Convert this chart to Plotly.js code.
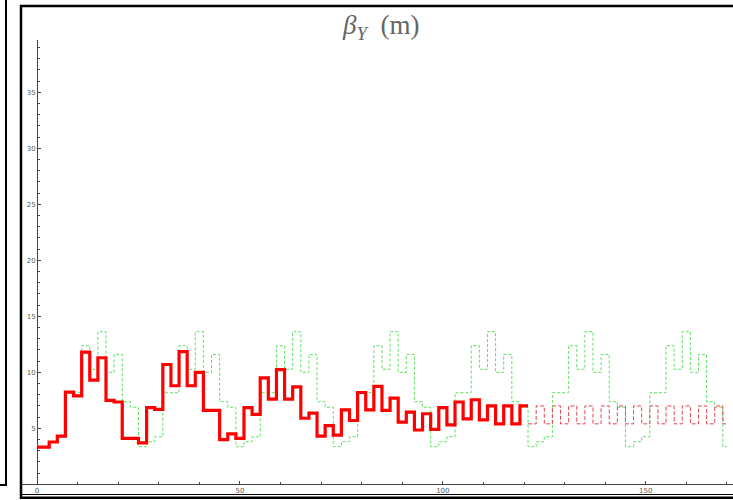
<!DOCTYPE html>
<html>
<head>
<meta charset="utf-8">
<script src="https://cdn.plot.ly/plotly-3.0.1.min.js"></script>
<style>
  html, body { margin: 0; padding: 0; background: #ffffff; }
  #chart { width: 733px; height: 500px; }
</style>
</head>
<body>
<div id="chart"></div>
<script>
// ---- data (s in m, beta_Y in m) ----
// matched section, thick red step line: segment edges and values
var redEdges = [0,3,5,7,9,11,13,15,17,19,21,25,27,29,31,33,35,37,39,41,45,47,49,51,53,55,57,59,61,63,65,67,69,71,73,75,77,79,81,83,85,87,89,91,93,95,97,99,101,103,105,107,109,111,113,115,117,119,121];
var redBeta  = [3.33,3.78,4.3,8.24,7.9,11.8,9.3,11.3,7.5,7.35,4.1,3.7,6.85,6.7,10.7,8.8,11.85,8.8,10.0,6.6,4.0,4.5,4.1,6.85,6.25,9.5,7.6,10.25,7.6,8.7,5.9,6.35,4.3,5.25,4.4,6.65,5.7,8.2,6.65,8.75,6.6,7.7,5.55,6.45,4.85,6.3,4.9,6.85,5.3,7.35,5.85,7.55,5.75,7.0,5.4,7.0,5.4,7.0];

// periodic continuation, thin dashed red
var perEdges = [121,123,125,127,129,131,133,135,137,139,141,143,145,147,149,151,153,155,157,159,161,163,165,167,169,170];
var perBeta  = [5.4,7.0,5.4,7.0,5.4,7.0,5.4,7.0,5.4,7.0,5.4,7.0,5.4,7.0,5.4,7.0,5.4,7.0,5.4,7.0,5.4,7.0,5.4,7.0,5.4];

// reference lattice, dotted green
var grnEdges = [0,3,5,7,
  11,13,15,17,19,21,23,25,27,29,31,
  35,37,39,41,43,45,47,49,51,53,55,
  59,61,63,65,67,69,71,73,75,77,79,
  83,85,87,89,91,93,95,97,99,101,103,
  107,109,111,113,115,117,119,121,123,125,127,
  131,133,135,137,139,141,143,145,147,149,151,
  155,157,159,161,163,165,167,169,170];
var grnBeta = [3.36,3.8,4.25,8.18,
  12.38,10.27,13.63,10.0,11.6,7.38,6.88,3.36,3.8,4.25,8.18,
  12.38,10.27,13.63,10.0,11.6,7.38,6.88,3.36,3.8,4.25,8.18,
  12.38,10.27,13.63,10.0,11.6,7.38,6.88,3.36,3.8,4.25,8.18,
  12.38,10.27,13.63,10.0,11.6,7.38,6.88,3.36,3.8,4.25,8.18,
  12.38,10.27,13.63,10.0,11.6,7.38,6.88,3.36,3.8,4.25,8.18,
  12.38,10.27,13.63,10.0,11.6,7.38,6.88,3.36,3.8,4.25,8.18,
  12.38,10.27,13.63,10.0,11.6,7.38,6.88,3.36];

var titleText = '<i>β</i><sub><i>Y</i></sub>\u00a0\u00a0(m)';

function stepY(vals) { return vals.concat([vals[vals.length - 1]]); }

var traces = [
  { x: grnEdges, y: stepY(grnBeta), type: 'scatter', mode: 'lines',
    line: { shape: 'hv', color: 'rgb(95,225,95)', width: 1, dash: '3px,2px' },
    hoverinfo: 'skip' },
  { x: perEdges, y: stepY(perBeta), type: 'scatter', mode: 'lines',
    line: { shape: 'hv', color: 'rgb(225,70,80)', width: 1, dash: '4px,2px' },
    hoverinfo: 'skip' },
  { x: redEdges, y: stepY(redBeta), type: 'scatter', mode: 'lines',
    line: { shape: 'hv', color: 'rgb(255,0,0)', width: 3.2 },
    hoverinfo: 'skip' }
];

// helpers for frame decoration in paper coordinates (plot area: x 22..733 px, y 40..484 px)
function px2x(px) { return (px - 22) / 711; }
function py2y(py) { return (484 - py) / 444; }

var blk = 'rgb(0,0,0)';
var shapes = [
  // main frame
  { type: 'line', xref: 'paper', yref: 'paper', x0: px2x(21), x1: px2x(21), y0: py2y(5), y1: py2y(499), line: { color: blk, width: 2.5 } },
  { type: 'line', xref: 'paper', yref: 'paper', x0: px2x(20), x1: px2x(745), y0: py2y(6), y1: py2y(6), line: { color: blk, width: 2.5 } },
  { type: 'line', xref: 'paper', yref: 'paper', x0: px2x(20), x1: px2x(745), y0: py2y(497.8), y1: py2y(497.8), line: { color: blk, width: 2.5 } },
  { type: 'line', xref: 'paper', yref: 'paper', x0: px2x(20), x1: px2x(745), y0: py2y(494.5), y1: py2y(494.5), line: { color: blk, width: 1 } },
  // remnant of neighbouring panel
  { type: 'line', xref: 'paper', yref: 'paper', x0: px2x(6), x1: px2x(6), y0: py2y(-2), y1: py2y(486), line: { color: blk, width: 2 } },
  { type: 'line', xref: 'paper', yref: 'paper', x0: px2x(-2), x1: px2x(7), y0: py2y(485), y1: py2y(485), line: { color: blk, width: 2 } }
];

var tickFont = { family: 'DejaVu Sans, sans-serif', size: 7, color: 'rgb(90,90,90)' };

var layout = {
  width: 733, height: 500,
  margin: { l: 22, r: 0, t: 40, b: 16, pad: 0 },
  paper_bgcolor: '#ffffff', plot_bgcolor: '#ffffff',
  showlegend: false,
  title: { text: titleText, xref: 'container', yref: 'container', x: 0.52, y: 0.95,
           xanchor: 'center', yanchor: 'middle',
           font: { family: 'Liberation Serif, serif', size: 27, color: 'rgb(100,100,100)' } },
  xaxis: {
    range: [-3.7, 171.5], showgrid: false, zeroline: false,
    showline: true, linecolor: 'rgb(70,70,70)', linewidth: 1,
    tickmode: 'linear', tick0: 0, dtick: 50,
    ticks: 'inside', ticklen: 3, tickcolor: 'rgb(70,70,70)', tickwidth: 1,
    tickfont: tickFont,
    minor: { tickmode: 'linear', tick0: 0, dtick: 10, ticks: 'inside', ticklen: 2, tickcolor: 'rgb(70,70,70)', showgrid: false }
  },
  yaxis: {
    range: [0.03, 39.67], showgrid: false, zeroline: false,
    anchor: 'free', position: px2x(37),
    showline: true, linecolor: 'rgb(70,70,70)', linewidth: 1,
    tickmode: 'linear', tick0: 0, dtick: 5,
    ticks: 'inside', ticklen: 3, tickcolor: 'rgb(70,70,70)', tickwidth: 1,
    tickfont: tickFont,
    minor: { tickmode: 'linear', tick0: 0, dtick: 1, ticks: 'inside', ticklen: 2, tickcolor: 'rgb(70,70,70)', showgrid: false }
  },
  shapes: shapes
};

Plotly.newPlot('chart', traces, layout, { staticPlot: true, displayModeBar: false });
</script>
</body>
</html>
